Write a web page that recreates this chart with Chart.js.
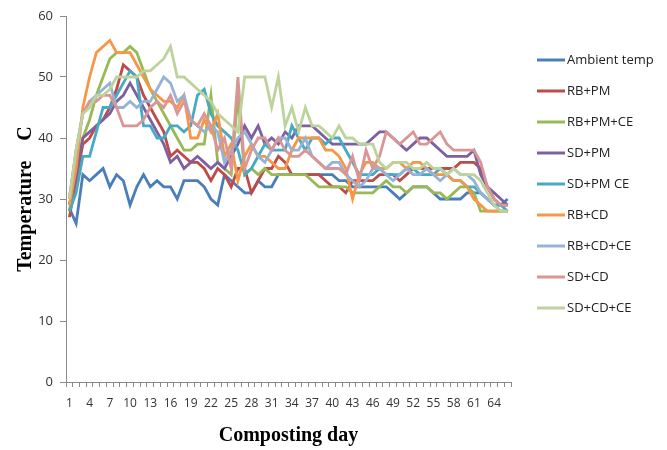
<!DOCTYPE html>
<html>
<head>
<meta charset="utf-8">
<script src="https://cdn.jsdelivr.net/npm/chart.js@4/dist/chart.umd.min.js"></script>
<style>
  html, body { margin: 0; padding: 0; background: #ffffff; }
  #wrap { width: 667px; height: 450px; }
</style>
</head>
<body>
<div id="wrap"><canvas id="c" width="667" height="450"></canvas></div>
<script>
// Composting days 1..66
const days = Array.from({ length: 66 }, (_, i) => String(i + 1));

const seriesNames = ['Ambient temp', 'RB+PM', 'RB+PM+CE', 'SD+PM', 'SD+PM CE',
                     'RB+CD', 'RB+CD+CE', 'SD+CD', 'SD+CD+CE'];

const ambientTemp = [28.5, 26, 34, 33, 34, 35, 32, 34, 33, 29,
  32, 34, 32, 33, 32, 32, 30, 33, 33, 33,
  32, 30, 29, 34, 33, 32, 31, 31, 33, 32,
  32, 34, 34, 34, 34, 34, 34, 34, 34, 34,
  33, 33, 32, 32, 32, 32, 32, 32, 31, 30,
  31, 32, 32, 32, 31, 30, 30, 30, 30, 31,
  31, 31, 30, 29, 29, 30];

const rbPm = [27, 33, 39, 40, 42, 43, 45, 48, 52, 51,
  50, 47, 45, 43, 41, 37, 38, 37, 36, 36,
  35, 33, 35, 34, 32, 35, 35, 31, 33, 35,
  35, 37, 36, 34, 34, 34, 34, 34, 33, 32,
  32, 31, 33, 33, 33, 33, 34, 34, 34, 33,
  34, 35, 35, 35, 35, 35, 35, 35, 36, 36,
  36, 35, 32, 30, 29, 29];

const rbPmCe = [28, 35, 40, 43, 47, 50, 53, 54, 54, 55,
  54, 51, 48, 46, 44, 42, 40, 38, 38, 39,
  39, 47, 36, 35, 34, 47, 34, 35, 34, 35,
  34, 34, 34, 34, 34, 34, 33, 32, 32, 32,
  32, 32, 31, 31, 31, 31, 32, 33, 32, 32,
  31, 32, 32, 32, 31, 31, 30, 31, 32, 32,
  31, 28, 28, 28, 28, 28];

const sdPm = [29, 34, 40, 41, 42, 43, 44, 46, 47, 49,
  47, 45, 43, 41, 39, 36, 37, 35, 36, 37,
  36, 35, 36, 35, 37, 39, 42, 40, 42, 39,
  40, 39, 41, 40, 42, 42, 42, 41, 40, 39,
  39, 39, 39, 39, 39, 40, 41, 41, 40, 39,
  38, 39, 40, 40, 39, 38, 37, 37, 37, 37,
  38, 34, 32, 31, 30, 29];

const sdPmCe = [28, 31, 37, 37, 41, 45, 45, 47, 49, 51,
  50, 42, 42, 40, 40, 42, 42, 41, 42, 47,
  48, 44, 42, 41, 40, 38, 34, 35, 37, 39,
  38, 38, 38, 42, 40, 38, 40, 40, 39, 40,
  40, 38, 36, 34, 34, 34, 35, 34, 34, 34,
  35, 35, 34, 34, 34, 35, 34, 33, 33, 32,
  32, 31, 30, 29, 29, 28];

const rbCd = [29, 35, 45, 50, 54, 55, 56, 54, 54, 54,
  52, 50, 48, 47, 46, 46, 45, 47, 40, 40,
  43, 41, 44, 37, 39, 33, 37, 39, 37, 37,
  36, 35, 35, 38, 40, 40, 40, 40, 38, 38,
  37, 35, 30, 34, 36, 36, 35, 35, 36, 36,
  35, 36, 36, 35, 34, 34, 34, 33, 33, 32,
  30, 29, 28, 28, 28, 28];

const rbCdCe = [30, 38, 44, 46, 47, 48, 49, 45, 45, 46,
  45, 46, 46, 48, 50, 49, 46, 47, 43, 42,
  41, 42, 41, 36, 38, 40, 41, 39, 37, 36,
  38, 40, 40, 38, 38, 40, 37, 36, 35, 36,
  36, 34, 33, 32, 33, 35, 35, 34, 33, 34,
  35, 34, 34, 35, 34, 33, 34, 35, 34, 34,
  33, 31, 30, 29, 28, 28];

const sdCd = [30, 38, 44, 46, 46, 47, 47, 45, 42, 42,
  42, 43, 45, 46, 45, 47, 44, 46, 43, 42,
  44, 42, 38, 40, 35, 50, 35, 38, 40, 40,
  38, 40, 38, 37, 37, 38, 37, 36, 35, 35,
  35, 34, 37, 33, 38, 35, 37, 41, 40, 39,
  40, 41, 39, 39, 40, 41, 39, 38, 38, 38,
  38, 36, 32, 30, 29, 29];

const sdCdCe = [30, 38, 44, 45, 47, 47, 48, 50, 50, 50,
  50, 51, 51, 52, 53, 55, 50, 50, 49, 48,
  47, 46, 44, 43, 42, 41, 50, 50, 50, 50,
  45, 50, 42, 45, 41, 45, 42, 42, 41, 40,
  42, 40, 40, 39, 39, 39, 36, 35, 36, 36,
  36, 35, 35, 36, 35, 35, 34, 35, 34, 34,
  34, 33, 31, 29, 28, 28];

const yTicks = [0, 10, 20, 30, 40, 50, 60];

const allSeries = [ambientTemp, rbPm, rbPmCe, sdPm, sdPmCe, rbCd, rbCdCe, sdCd, sdCdCe];
const colors = ['#4A7EBB', '#BE4B48', '#98B954', '#7D60A0', '#46AAC5',
                '#F79646', '#95B3D7', '#D99694', '#BDD39B'];

const datasets = allSeries.map((vals, i) => ({
  label: seriesNames[i],
  data: vals,
  borderColor: colors[i],
  backgroundColor: colors[i],
  borderWidth: 2.8,
  pointRadius: 0,
  tension: 0,
  fill: false,
  // later series are painted over earlier ones
  order: allSeries.length - 1 - i
}));

// Legend drawn at the right of the plot, one row per series
const sideLegend = {
  id: 'sideLegend',
  afterDraw(chart) {
    const ctx = chart.ctx;
    ctx.save();
    ctx.font = '13px "Open Sans"';
    ctx.textBaseline = 'middle';
    ctx.fillStyle = '#222';
    chart.data.datasets.forEach((ds, i) => {
      const y = 60 + i * 31;
      ctx.strokeStyle = ds.borderColor;
      ctx.lineWidth = 3;
      ctx.beginPath();
      ctx.moveTo(537, y);
      ctx.lineTo(565, y);
      ctx.stroke();
      ctx.fillText(ds.label, 567, y);
    });
    ctx.restore();
  }
};

new Chart(document.getElementById('c'), {
  type: 'line',
  data: { labels: days, datasets },
  options: {
    responsive: false,
    animation: false,
    layout: { padding: { top: 16, right: 156, bottom: 0, left: 0 } },
    plugins: { legend: { display: false }, tooltip: { enabled: false } },
    scales: {
      x: {
        type: 'category',
        offset: true,
        afterFit(scale) { scale.height = 68; },
        border: { display: true, color: '#8a8a8a', width: 1 },
        grid: { display: true, drawOnChartArea: false, drawTicks: true, tickLength: 5, color: '#8a8a8a', offset: true },
        ticks: {
          autoSkip: false,
          maxRotation: 0,
          padding: 9,
          color: '#333',
          font: { family: 'Open Sans', size: 12 },
          callback(value, index) { return index % 3 === 0 ? days[index] : ''; }
        },
        title: {
          display: true,
          text: 'Composting day',
          color: '#000',
          font: { family: 'Liberation Serif', size: 20, weight: 'bold' },
          padding: { top: 0, bottom: 2 }
        }
      },
      y: {
        min: 0,
        max: 60,
        afterFit(scale) { scale.width = 66; },
        afterBuildTicks(scale) { scale.ticks = yTicks.map(v => ({ value: v })); },
        border: { display: true, color: '#8a8a8a', width: 1 },
        grid: { display: true, drawOnChartArea: false, drawTicks: true, tickLength: 6, color: '#8a8a8a' },
        ticks: {
          padding: 7,
          color: '#333',
          font: { family: 'Open Sans', size: 13 }
        },
        title: {
          display: true,
          text: 'Temperature    C',
          color: '#000',
          font: { family: 'Liberation Serif', size: 20, weight: 'bold' },
          padding: { top: 14, bottom: 0 }
        }
      }
    }
  },
  plugins: [sideLegend]
});
</script>
</body>
</html>
